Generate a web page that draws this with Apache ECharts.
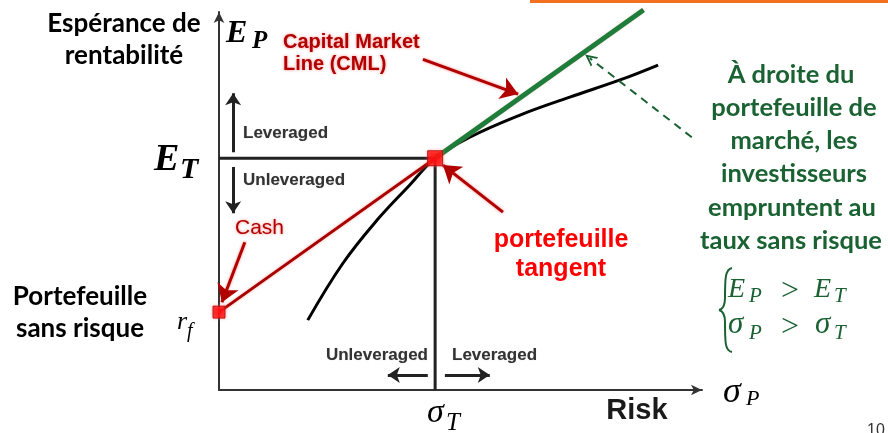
<!DOCTYPE html>
<html>
<head>
<meta charset="utf-8">
<script src="https://cdn.jsdelivr.net/npm/echarts@6/dist/echarts.min.js"></script>
<style>
  html, body { margin: 0; padding: 0; background: #ffffff; }
  #chart { width: 888px; height: 433px; }
</style>
</head>
<body>
<div id="chart"></div>
<script>
// Efficient frontier: risk (sigma) and expected return, in axis units
const frontierSigma  = [18.2, 25.4, 32.4, 39.1, 44.3, 51.4, 61.7, 71.9, 82.2, 90.0];
const frontierReturn = [18.3, 33.2, 44.5, 53.7, 60.7, 66.2, 72.0, 76.7, 81.2, 85.1];

// Risk-free asset and tangent (market) portfolio, [sigma, E]
const riskFree = [0, 20.4];
const tangent  = [44.3, 60.7];

// The capital market line is drawn out to this sigma
const cmlEndSigma = 87;

// Annotation arrows, [from, to] in axis units
const pointerArrows = [
  [[41.8, 86.6], [61.3, 77.5]],   // "Capital Market Line (CML)"
  [[58.2, 46.6], [45.9, 58.9]],   // "portefeuille tangent"
  [[5.3, 38.7], [0.6, 23.0]]      // "Cash"
];
const leverageArrows = [
  [[2.9, 62.3], [2.9, 77.7]],     // leveraged (up)
  [[2.9, 58.4], [2.9, 46.3]],     // unleveraged (down)
  [[42.8, 3.9], [34.6, 3.9]],     // unleveraged (left)
  [[46.3, 3.9], [55.5, 3.9]]      // leveraged (right)
];
const borrowArrow = [[96.9, 66.2], [76.0, 86.9]];

const frontier = frontierSigma.map((s, i) => [s, frontierReturn[i]]);
const cmlSlope = (tangent[1] - riskFree[1]) / (tangent[0] - riskFree[0]);
const cmlEnd = [cmlEndSigma, riskFree[1] + cmlSlope * (cmlEndSigma - riskFree[0])];

const RED_DARK = '#b00000';
const GREEN_TXT = '#1b6233';
const GREEN_LINE = '#1f7d3c';
const CALIBRI = 'Lato, "Open Sans", sans-serif';
const ARIAL = '"Liberation Sans", Arial, sans-serif';
const SERIF = '"Liberation Serif", "DejaVu Serif", serif';

function txt(x, y, text, font, fill, align, extra) {
  return {
    type: 'text', z: 20, x: x, y: y,
    style: Object.assign({ text: text, font: font, fill: fill,
      align: align || 'left', verticalAlign: 'middle' }, extra || {})
  };
}
function curve(x1, y1, cx1, cy1, cx2, cy2, x2, y2) {
  return {
    type: 'bezierCurve', z: 20,
    shape: { x1: x1, y1: y1, cpx1: cx1, cpy1: cy1, cpx2: cx2, cpy2: cy2, x2: x2, y2: y2 },
    style: { stroke: GREEN_TXT, fill: null, lineWidth: 2 }
  };
}
const glowRed = { textShadowColor: 'rgba(255,120,120,0.9)', textShadowBlur: 3 };
const softGray = { textShadowColor: '#bbb', textShadowBlur: 1 };

const graphics = [
  // header accent bar
  { type: 'rect', z: 20, shape: { x: 530, y: 0, width: 358, height: 3 }, style: { fill: '#f37021' } },

  // axis titles
  txt(124, 24, 'Espérance de', 'bold 26px ' + CALIBRI, '#000', 'center'),
  txt(124, 56, 'rentabilité', 'bold 26px ' + CALIBRI, '#000', 'center'),
  txt(80, 297, 'Portefeuille', 'bold 26px ' + CALIBRI, '#000', 'center'),
  txt(80, 329, 'sans risque', 'bold 26px ' + CALIBRI, '#000', 'center'),

  // math symbols
  txt(226, 34, 'E', 'italic bold 32px ' + SERIF, '#000'),
  txt(252, 42, 'P', 'italic bold 25px ' + SERIF, '#000'),
  txt(154, 160, 'E', 'italic bold 38px ' + SERIF, '#000'),
  txt(180, 170, 'T', 'italic bold 30px ' + SERIF, '#000'),
  txt(177, 322, 'r', 'italic 26px ' + SERIF, '#000'),
  txt(187, 332, 'f', 'italic 20px ' + SERIF, '#000'),
  txt(427, 413, 'σ', 'italic 34px ' + SERIF, '#000'),
  txt(446, 423, 'T', 'italic 25px ' + SERIF, '#000'),
  txt(723, 393, 'σ', 'italic 36px ' + SERIF, '#000'),
  txt(746, 399, 'P', 'italic 22px ' + SERIF, '#000'),

  // diagram labels
  txt(283, 42, 'Capital Market', 'bold 20px ' + ARIAL, RED_DARK, 'left', glowRed),
  txt(283, 64, 'Line (CML)', 'bold 20px ' + ARIAL, RED_DARK, 'left', glowRed),
  txt(243, 133, 'Leveraged', 'bold 17px ' + ARIAL, '#333', 'left', softGray),
  txt(243, 180, 'Unleveraged', 'bold 17px ' + ARIAL, '#333', 'left', softGray),
  txt(235, 228, 'Cash', '21px ' + ARIAL, RED_DARK, 'left', glowRed),
  txt(428, 355, 'Unleveraged', 'bold 17px ' + ARIAL, '#333', 'right', softGray),
  txt(452, 355, 'Leveraged', 'bold 17px ' + ARIAL, '#333', 'left', softGray),
  txt(561, 240, 'portefeuille', 'bold 25px ' + ARIAL, '#ff0000', 'center'),
  txt(561, 269, 'tangent', 'bold 25px ' + ARIAL, '#ff0000', 'center'),
  txt(637, 411, 'Risk', 'bold 29px ' + ARIAL, '#1a1a1a', 'center'),

  // borrowing note
  txt(791, 75, 'À droite du', 'bold 25.5px ' + CALIBRI, GREEN_TXT, 'center'),
  txt(794, 108, 'portefeuille de', 'bold 25.5px ' + CALIBRI, GREEN_TXT, 'center'),
  txt(794, 141, 'marché, les', 'bold 25.5px ' + CALIBRI, GREEN_TXT, 'center'),
  txt(794, 174, 'investisseurs', 'bold 25.5px ' + CALIBRI, GREEN_TXT, 'center'),
  txt(792, 208, 'empruntent au', 'bold 25.5px ' + CALIBRI, GREEN_TXT, 'center'),
  txt(791, 241, 'taux sans risque', 'bold 25.5px ' + CALIBRI, GREEN_TXT, 'center'),

  // system of inequalities: left brace
  curve(732, 268, 725, 269, 725, 280, 725, 298),
  curve(725, 298, 725, 306, 723, 309, 719, 310),
  curve(719, 310, 723, 311, 725, 314, 725, 322),
  curve(725, 322, 725, 342, 725, 351, 732, 352),
  txt(728, 290, 'E', 'italic 28px ' + SERIF, GREEN_TXT),
  txt(749, 296, 'P', 'italic 21px ' + SERIF, GREEN_TXT),
  txt(781, 292, '>', '32px ' + SERIF, GREEN_TXT),
  txt(814, 290, 'E', 'italic 28px ' + SERIF, GREEN_TXT),
  txt(834, 296, 'T', 'italic 21px ' + SERIF, GREEN_TXT),
  txt(728, 325, 'σ', 'italic 31px ' + SERIF, GREEN_TXT),
  txt(749, 333, 'P', 'italic 21px ' + SERIF, GREEN_TXT),
  txt(781, 328, '>', '32px ' + SERIF, GREEN_TXT),
  txt(815, 325, 'σ', 'italic 31px ' + SERIF, GREEN_TXT),
  txt(834, 333, 'T', 'italic 21px ' + SERIF, GREEN_TXT),

  // page number
  txt(876, 431, '10', '16px ' + ARIAL, '#333', 'center')
];

const arrowSeries = (arrows, lineStyle, size, symbol) => ({
  type: 'lines', coordinateSystem: 'cartesian2d', z: 7, silent: true,
  symbol: ['none', symbol || 'arrow'], symbolSize: size,
  lineStyle: Object.assign({ opacity: 1 }, lineStyle),
  data: arrows.map(a => ({ coords: a }))
});

const chart = echarts.init(document.getElementById('chart'), null, { renderer: 'canvas' });
chart.setOption({
  backgroundColor: '#ffffff',
  animation: false,
  grid: { left: 219, right: 186, top: 12, bottom: 43 },
  xAxis: {
    type: 'value', min: 0, max: 99,
    axisLine: { lineStyle: { color: '#333', width: 2 }, symbol: ['none', 'arrow'], symbolSize: [8, 11] },
    axisTick: { show: false }, axisLabel: { show: false }, splitLine: { show: false }
  },
  yAxis: {
    type: 'value', min: 0, max: 99,
    axisLine: { lineStyle: { color: '#333', width: 2 }, symbol: ['none', 'arrow'], symbolSize: [8, 11] },
    axisTick: { show: false }, axisLabel: { show: false }, splitLine: { show: false }
  },
  graphic: graphics,
  series: [
    { // E_T guide
      type: 'line', z: 3, symbol: 'none', silent: true,
      lineStyle: { color: '#222', width: 3 },
      data: [[0, tangent[1]], [tangent[0], tangent[1]]]
    },
    { // sigma_T guide
      type: 'line', z: 3, symbol: 'none', silent: true,
      lineStyle: { color: '#222', width: 3 },
      data: [[tangent[0], 0], [tangent[0], tangent[1]]]
    },
    { // efficient frontier
      type: 'line', z: 4, symbol: 'none', smooth: 0.4, silent: true,
      lineStyle: { color: '#000', width: 3 },
      data: frontier
    },
    { // capital market line (red)
      type: 'line', z: 5, symbol: 'none', silent: true, clip: false,
      lineStyle: { color: '#a80000', width: 3, shadowColor: 'rgba(255,140,140,0.7)', shadowBlur: 3 },
      data: [riskFree, cmlEnd]
    },
    { // borrowing part of the CML (green)
      type: 'line', z: 6, symbol: 'none', silent: true, clip: false,
      lineStyle: { color: GREEN_LINE, width: 5 },
      data: [tangent, cmlEnd]
    },
    { // risk-free and tangent portfolios
      type: 'scatter', z: 8, silent: true,
      symbol: 'rect',
      symbolSize: (v, p) => p.dataIndex === 0 ? 12 : 15,
      itemStyle: { color: '#ff0000', borderColor: '#b00000', borderWidth: 1,
        shadowColor: 'rgba(255,120,120,0.8)', shadowBlur: 3 },
      data: [riskFree, tangent]
    },
    arrowSeries(pointerArrows,
      { color: RED_DARK, width: 3, shadowColor: 'rgba(255,120,120,0.8)', shadowBlur: 3 }, [0, 17]),
    arrowSeries(leverageArrows, { color: '#222', width: 3 }, [0, 12]),
    arrowSeries([borrowArrow], { color: GREEN_TXT, width: 2, type: [8, 6] }, [0, 12],
      'path://M0,10 L5,0 L10,10 L8.2,10 L5,3.6 L1.8,10 Z')
  ]
});
</script>
</body>
</html>
